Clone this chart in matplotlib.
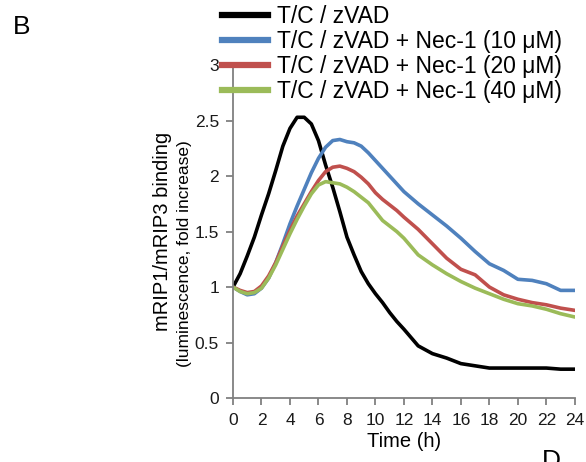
import numpy as np
import matplotlib.pyplot as plt

plt.rcParams['font.family'] = ['Liberation Sans', 'DejaVu Sans']

# time points (h)
time_h = [0, 0.5, 1, 1.5, 2, 2.5, 3, 3.5, 4, 4.5, 5, 5.5, 6, 6.5, 7, 7.5, 8, 8.5,
          9, 9.5, 10, 10.5, 11, 11.5, 12, 13, 14, 15, 16, 17, 18, 19, 20, 21, 22, 23, 24]

tc_zvad = [1.00, 1.12, 1.28, 1.45, 1.65, 1.84, 2.05, 2.27, 2.43, 2.53, 2.53, 2.47, 2.32,
           2.10, 1.90, 1.68, 1.45, 1.29, 1.14, 1.03, 0.94, 0.86, 0.77, 0.69, 0.62, 0.47,
           0.40, 0.36, 0.31, 0.29, 0.27, 0.27, 0.27, 0.27, 0.27, 0.26, 0.26]
nec_10 = [1.00, 0.96, 0.93, 0.94, 0.99, 1.08, 1.22, 1.39, 1.57, 1.73, 1.88, 2.03, 2.16,
          2.26, 2.32, 2.33, 2.31, 2.30, 2.27, 2.21, 2.14, 2.07, 2.00, 1.93, 1.86, 1.75,
          1.65, 1.55, 1.44, 1.32, 1.21, 1.15, 1.07, 1.06, 1.03, 0.97, 0.97]
nec_20 = [1.00, 0.97, 0.95, 0.96, 1.01, 1.10, 1.22, 1.37, 1.51, 1.64, 1.75, 1.86, 1.96,
          2.04, 2.08, 2.09, 2.07, 2.04, 1.99, 1.93, 1.85, 1.79, 1.74, 1.69, 1.63, 1.52,
          1.39, 1.26, 1.16, 1.11, 1.00, 0.93, 0.89, 0.86, 0.84, 0.81, 0.79]
nec_40 = [1.00, 0.96, 0.94, 0.95, 0.99, 1.08, 1.20, 1.34, 1.48, 1.61, 1.73, 1.84, 1.92,
          1.95, 1.94, 1.93, 1.90, 1.86, 1.81, 1.76, 1.68, 1.60, 1.55, 1.50, 1.44, 1.29,
          1.20, 1.12, 1.05, 0.99, 0.94, 0.89, 0.85, 0.83, 0.80, 0.76, 0.73]

labels = ['T/C / zVAD',
          'T/C / zVAD + Nec-1 (10 \u03bcM)',
          'T/C / zVAD + Nec-1 (20 \u03bcM)',
          'T/C / zVAD + Nec-1 (40 \u03bcM)']
colors = ['#000000', '#4F81BD', '#C0504D', '#9BBB59']

fig = plt.figure(figsize=(5.86, 4.62), dpi=100)
ax = fig.add_axes([0.3976, 0.1385, 0.5834, 0.7205])

series = [tc_zvad, nec_10, nec_20, nec_40]
for vals, c, lab in zip(series, colors, labels):
    ax.plot(time_h, vals, color=c, lw=2.6, label=lab,
            solid_capstyle='round', solid_joinstyle='round')

ax.set_xlim(0, 24)
ax.set_ylim(0, 3)
ax.set_xticks(np.arange(0, 25, 2))
ax.set_yticks([0, 0.5, 1, 1.5, 2, 2.5, 3])
ax.set_yticklabels(['0', '0.5', '1', '1.5', '2', '2.5', '3'])
for s in ['top', 'right']:
    ax.spines[s].set_visible(False)
for s in ['left', 'bottom']:
    ax.spines[s].set_color('#808080')
    ax.spines[s].set_linewidth(1.3)
ax.tick_params(direction='out', length=5, width=1.3, color='#808080',
               labelsize=12.5, labelcolor='#1a1a1a', pad=5)
ax.tick_params(axis='x', pad=6)
ax.set_xlabel('Time (h)', fontsize=14.5, labelpad=3)

fig.text(0.277, 0.50, 'mRIP1/mRIP3 binding', rotation=90, fontsize=14.5,
         ha='center', va='center')
fig.text(0.315, 0.45, '(luminescence, fold increase)', rotation=90, fontsize=12.5,
         ha='center', va='center')

fig.legend(handles=[plt.Line2D([], [], color=c, lw=4.5) for c in colors],
           labels=labels, loc='upper left', bbox_to_anchor=(0.379, 0.99),
           frameon=False, fontsize=16.5, handlelength=2.0, handletextpad=0.4,
           labelspacing=0.1, borderpad=0, borderaxespad=0)

fig.text(0.022, 0.942, 'B', fontsize=19, ha='left', va='center')
fig.text(0.925, 0.028, 'D', fontsize=19, ha='left', va='top')

fig.savefig('out.png', dpi=100)
